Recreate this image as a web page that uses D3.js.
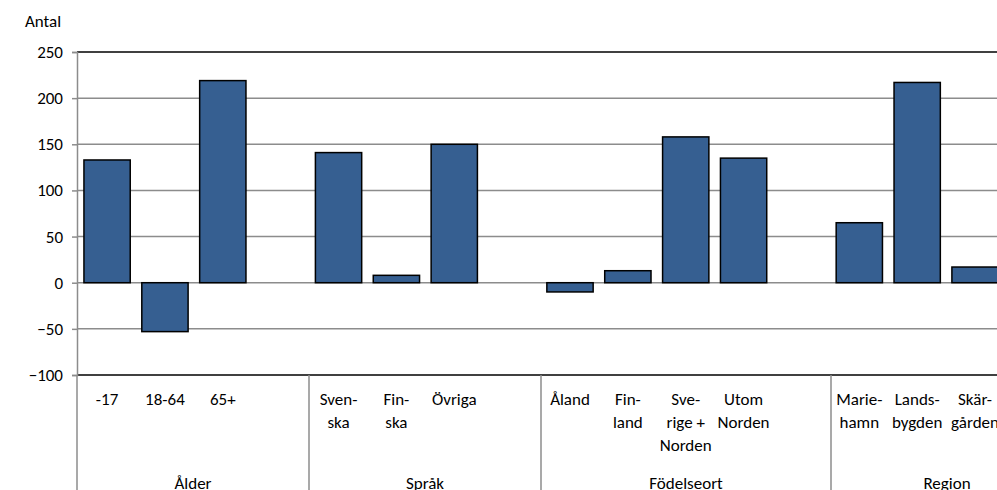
<!DOCTYPE html>
<html>
<head>
<meta charset="utf-8">
<script src="https://cdn.jsdelivr.net/npm/d3@7"></script>
<style>
  body { margin: 0; background: #fff; }
  svg { display: block; font-family: Carlito, Lato, "Open Sans", sans-serif; }
</style>
</head>
<body>
<svg width="997" height="490"></svg>
<script>
// category labels (line breaks with \n), blanks separate the groups
var categories = ["-17", "18-64", "65+", "",
  "Sven-\nska", "Fin-\nska", "Övriga", "",
  "Åland", "Fin-\nland", "Sve-\nrige +\nNorden", "Utom\nNorden", "",
  "Marie-\nhamn", "Lands-\nbygden", "Skär-\ngården", ""];
var values = [133, -53, 219, null,
  141, 8, 150, null,
  -10, 13, 158, 135, null,
  65, 217, 17, null];
var groups = ["Ålder", "Språk", "Födelseort", "Region"];
var groupSizes = [4, 4, 5, 4];
var yTicks = [-100, -50, 0, 50, 100, 150, 200, 250];

var svg = d3.select("svg"),
    fontSize = 17,
    plotLeft = 77, plotTop = 52, plotBottom = 375,
    step = 58;

var x = d3.scaleBand()
  .domain(d3.range(categories.length))
  .range([plotLeft, plotLeft + step * categories.length])
  .paddingInner(0.2).paddingOuter(0.12);

var y = d3.scaleLinear().domain([-100, 250]).range([plotBottom, plotTop]);

// gridlines
svg.append("g").selectAll("line")
  .data(yTicks)
  .enter().append("line")
  .attr("x1", plotLeft).attr("x2", 997)
  .attr("y1", function(d) { return y(d); })
  .attr("y2", function(d) { return y(d); })
  .attr("stroke", function(d) { return (d === 250 || d === -100) ? "#000" : "#8c8c8c"; })
  .attr("stroke-width", 1.5);

// y axis
var yAxis = svg.append("g")
  .attr("transform", "translate(" + plotLeft + ",0)")
  .call(d3.axisLeft(y).tickValues(yTicks).tickSize(5).tickPadding(9));
yAxis.select(".domain").attr("stroke", "#8c8c8c").attr("stroke-width", 1.5);
yAxis.selectAll(".tick line").attr("stroke", "#8c8c8c").attr("stroke-width", 1.5);
yAxis.selectAll("text").attr("font-size", fontSize).attr("fill", "#000")
  .attr("font-family", "Carlito, Lato, 'Open Sans', sans-serif");

svg.append("text")
  .attr("x", 25).attr("y", 27)
  .attr("font-size", fontSize)
  .text("Antal");

// bars
svg.append("g").selectAll("rect")
  .data(values.map(function(v, i) { return { v: v, i: i }; }).filter(function(d) { return d.v !== null; }))
  .enter().append("rect")
  .attr("x", function(d) { return x(d.i); })
  .attr("width", x.bandwidth())
  .attr("y", function(d) { return y(Math.max(0, d.v)); })
  .attr("height", function(d) { return Math.abs(y(d.v) - y(0)); })
  .attr("fill", "#365F91")
  .attr("stroke", "#000")
  .attr("stroke-width", 1.5);

// left axis extends down into the label area
svg.append("line")
  .attr("x1", plotLeft).attr("x2", plotLeft)
  .attr("y1", plotBottom).attr("y2", 490)
  .attr("stroke", "#8c8c8c").attr("stroke-width", 1.5);

// group separators and group names
var start = 0;
groups.forEach(function(g, k) {
  var n = groupSizes[k],
      x0 = plotLeft + start * step,
      x1 = plotLeft + (start + n) * step;
  svg.append("line")
    .attr("x1", x1).attr("x2", x1)
    .attr("y1", plotBottom).attr("y2", 490)
    .attr("stroke", "#8c8c8c").attr("stroke-width", 1.5);
  svg.append("text")
    .attr("x", (x0 + x1) / 2).attr("y", 489)
    .attr("text-anchor", "middle")
    .attr("font-size", fontSize)
    .text(g);
  start += n;
});

// category labels
svg.append("g").selectAll("text")
  .data(categories)
  .enter().append("text")
  .attr("text-anchor", "middle")
  .attr("font-size", fontSize)
  .each(function(d, i) {
    var t = d3.select(this), cx = x(i) + x.bandwidth() / 2;
    d.split("\n").forEach(function(line, j) {
      t.append("tspan").attr("x", cx).attr("y", 405 + j * 23).text(line);
    });
  });
</script>
</body>
</html>
